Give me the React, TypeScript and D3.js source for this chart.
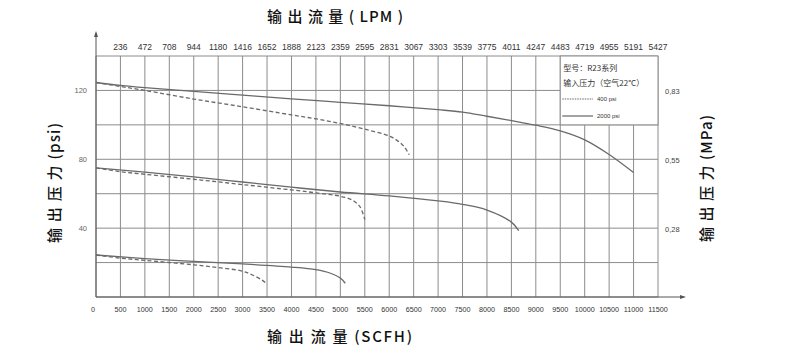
import * as d3 from 'd3';

// flow axis (SCFH), grid every 500
const scfhTicks = [0, 500, 1000, 1500, 2000, 2500, 3000, 3500, 4000, 4500, 5000, 5500, 6000, 6500, 7000, 7500, 8000, 8500, 9000, 9500, 10000, 10500, 11000, 11500];
const lpmLabels = ['236', '472', '708', '944', '1180', '1416', '1652', '1888', '2123', '2359', '2595', '2831', '3067', '3303', '3539', '3775', '4011', '4247', '4483', '4719', '4955', '5191', '5427'];
const psiGrid = [0, 20, 40, 60, 80, 100, 120, 140];
const psiLabels = [40, 80, 120];
const mpaLabels = ['0,28', '0,55', '0,83'];

// 2000 psi inlet (solid)
const hiSolidFlow = [0, 500, 1000, 2000, 3000, 4000, 5000, 6000, 7000, 7500, 8000, 8500, 9000, 9500, 10000, 10500, 11000];
const hiSolidPsi = [124.6, 122.9, 121.6, 119.5, 117.3, 115.1, 113.1, 111.1, 108.8, 107.4, 105, 102.5, 99.8, 96.5, 91.3, 82.8, 72.3];
const midSolidFlow = [0, 1000, 2000, 3000, 4000, 5000, 6000, 7000, 7500, 8000, 8500, 8650];
const midSolidPsi = [75, 72.5, 69.8, 66.8, 63.8, 61, 58.7, 55.8, 53.8, 50.5, 43.5, 38.5];
const loSolidFlow = [0, 1000, 2000, 3000, 4000, 4500, 4800, 5000, 5100];
const loSolidPsi = [24.4, 22.3, 20.7, 19.2, 17.4, 15.9, 13.8, 11, 8];

// 400 psi inlet (dashed)
const hiDashFlow = [0, 500, 1000, 2000, 3000, 4000, 4500, 5000, 5500, 6000, 6160, 6300, 6410];
const hiDashPsi = [124.6, 122.3, 120, 115, 110.5, 105.8, 103.5, 100.8, 97.5, 93.5, 91, 87.5, 82.6];
const midDashFlow = [0, 500, 1000, 2000, 3000, 4000, 4500, 5000, 5250, 5400, 5500];
const midDashPsi = [75, 72.8, 71.3, 68.4, 65.3, 62.2, 60.5, 58.5, 56.2, 52.5, 45];
const loDashFlow = [0, 500, 1000, 2000, 2500, 3000, 3200, 3400, 3500];
const loDashPsi = [24.4, 22.6, 21.3, 18.7, 17.1, 15, 12.8, 9.8, 7.5];

const W = 790;
const H = 351;
const left = 96;
const right = 658;
const top = 56;
const bottom = 297;

const x = d3.scaleLinear().domain([0, 11500]).range([left, right]);
const y = d3.scaleLinear().domain([0, 140]).range([bottom, top]);

const line = d3
  .line<[number, number]>()
  .x((d) => x(d[0]))
  .y((d) => y(d[1]))
  .curve(d3.curveCatmullRom.alpha(0.5));

const zip = (a: number[], b: number[]) => a.map((v, i) => [v, b[i]] as [number, number]);

const solids = [zip(hiSolidFlow, hiSolidPsi), zip(midSolidFlow, midSolidPsi), zip(loSolidFlow, loSolidPsi)];
const dashes = [zip(hiDashFlow, hiDashPsi), zip(midDashFlow, midDashPsi), zip(loDashFlow, loDashPsi)];

const gridColor = '#8c8c8c';
const curveColor = '#6a6a6a';
const tickColor = '#333';
const cjk = '"Noto Sans CJK SC", "Liberation Sans", sans-serif';
const sans = '"Liberation Sans", Arial, sans-serif';

export default function App() {
  return (
    <svg width={W} height={H} style={{ position: 'absolute', left: 0, top: 0, background: '#fff' }}>
      {/* grid */}
      {psiGrid.map((p) => (
        <line key={'h' + p} x1={left} x2={right} y1={y(p)} y2={y(p)} stroke={gridColor} strokeWidth={1} />
      ))}
      {scfhTicks.map((f) => (
        <line key={'v' + f} x1={x(f)} x2={x(f)} y1={top} y2={bottom} stroke={gridColor} strokeWidth={1} />
      ))}

      {/* axes with arrows */}
      <line x1={left} x2={left} y1={bottom} y2={33} stroke="#555" strokeWidth={1} />
      <path d={`M${left - 2},37 L${left},31 L${left + 2},37 Z`} fill="#555" />
      <line x1={left} x2={684} y1={bottom} y2={bottom} stroke="#555" strokeWidth={1} />
      <path d={`M680,${bottom - 2} L686,${bottom} L680,${bottom + 2} Z`} fill="#555" />

      {/* curves */}
      {solids.map((s, i) => (
        <path key={'s' + i} d={line(s) ?? ''} fill="none" stroke={curveColor} strokeWidth={1.3} />
      ))}
      {dashes.map((s, i) => (
        <path key={'d' + i} d={line(s) ?? ''} fill="none" stroke={curveColor} strokeWidth={1.3} strokeDasharray="4,2.5" />
      ))}

      {/* legend */}
      <rect x={x(9500)} y={top} width={right - x(9500)} height={y(100) - top} fill="#fff" stroke={gridColor} strokeWidth={1} />
      <text x={x(9500) + 3} y={71} fontFamily={cjk} fontSize={8} fill="#333">型号：R23系列</text>
      <text x={x(9500) + 3} y={86} fontFamily={cjk} fontSize={8} fill="#333">输入压力（空气22°C）</text>
      <line x1={x(9500) + 2} x2={593} y1={99} y2={99} stroke="#444" strokeWidth={0.8} strokeDasharray="1.5,1" />
      <text x={597} y={101} fontFamily={sans} fontSize={6} fill="#333">400 psi</text>
      <line x1={x(9500) + 2} x2={593} y1={116} y2={116} stroke="#333" strokeWidth={0.9} />
      <text x={597} y={118} fontFamily={sans} fontSize={6} fill="#333">2000 psi</text>

      {/* top LPM labels */}
      {lpmLabels.map((t, i) => (
        <text key={'l' + t} x={x(scfhTicks[i + 1])} y={50} textAnchor="middle" fontFamily={sans} fontSize={8.5} fill={tickColor}>
          {t}
        </text>
      ))}

      {/* bottom SCFH labels */}
      {scfhTicks.map((f) => (
        <text key={'b' + f} x={f === 0 ? x(f) - 3 : x(f)} y={312} textAnchor="middle" fontFamily={sans} fontSize={7.2} fill={tickColor}>
          {f}
        </text>
      ))}

      {/* psi labels */}
      {psiLabels.map((p) => (
        <text key={'p' + p} x={87} y={y(p) + 3} textAnchor="end" fontFamily={sans} fontSize={7.5} fill="#666">
          {p}
        </text>
      ))}
      {mpaLabels.map((m, i) => (
        <text key={'m' + m} x={665} y={y(psiLabels[i]) + 3.5} fontFamily={sans} fontSize={7.5} fill="#444">
          {m}
        </text>
      ))}

      {/* axis titles */}
      <text x={267} y={22} fontFamily={cjk} fontSize={15} fontWeight={500} fill="#111" textLength={136} lengthAdjust="spacing">
        输 出 流 量 ( LPM )
      </text>
      <text x={267} y={342} fontFamily={cjk} fontSize={15} fontWeight={500} fill="#111" textLength={145} lengthAdjust="spacing">
        输 出 流 量 (SCFH)
      </text>
      <text
        transform="translate(60,243) rotate(-90)"
        fontFamily={cjk}
        fontSize={15}
        fontWeight={500}
        fill="#111"
        textLength={120}
        lengthAdjust="spacing"
      >
        输 出 压 力 (psi)
      </text>
      <text
        transform="translate(712,242) rotate(-90)"
        fontFamily={cjk}
        fontSize={15}
        fontWeight={500}
        fill="#111"
        textLength={127}
        lengthAdjust="spacing"
      >
        输 出 压 力 (MPa)
      </text>
    </svg>
  );
}
